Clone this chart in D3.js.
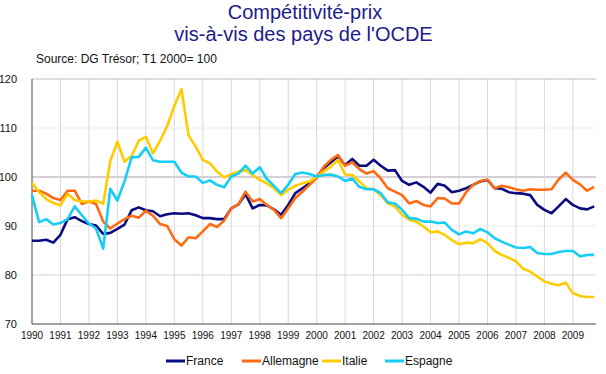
<!DOCTYPE html>
<html>
<head>
<meta charset="utf-8">
<script src="https://cdn.jsdelivr.net/npm/d3@7"></script>
<style>
  body { margin: 0; background: #fff; }
  svg { display: block; font-family: Arial, "Liberation Sans", sans-serif; }
</style>
</head>
<body>
<div id="chart"></div>
<script>
'use strict'

// quarterly data, 1990 T1 .. 2009 T4 (T1 2000 = 100)
const years = d3.range(1990, 2010)
const yTicks = [70, 80, 90, 100, 110, 120]

const france = [
    87.0, 87.0, 87.2, 86.6, 88.2, 91.4, 91.8, 91.0, 90.4, 90.1, 88.4, 88.6,
    89.4, 90.3, 93.2, 93.8, 93.2, 93.0, 92.0, 92.4, 92.6, 92.5, 92.6, 92.2,
    91.6, 91.6, 91.4, 91.4, 93.6, 94.4, 96.5, 93.6, 94.3, 94.2, 93.4, 92.3,
    94.3, 96.7, 97.7, 98.7, 100.0, 101.8, 103.0, 104.2, 102.4, 103.7, 102.3, 102.3,
    103.5, 102.3, 101.3, 101.4, 99.2, 98.4, 98.9, 98.0, 96.8, 98.6, 98.2, 96.9,
    97.2, 97.7, 98.4, 99.1, 99.4, 97.7, 97.6, 96.9, 96.7, 96.6, 96.3, 94.3,
    93.3, 92.6, 94.0, 95.5, 94.3, 93.6, 93.4, 94.0
]
const allemagne = [
    97.2, 97.2, 96.6, 95.7, 95.3, 97.2, 97.2, 94.5, 95.0, 94.5, 90.9, 89.5,
    90.5, 91.4, 92.1, 91.7, 93.1, 92.1, 90.4, 90.0, 87.3, 86.0, 87.7, 87.5,
    88.9, 90.4, 89.8, 91.1, 93.6, 94.4, 97.0, 95.0, 95.5, 94.3, 93.3, 91.6,
    93.6, 95.7, 97.0, 98.4, 99.8, 102.1, 103.5, 104.5, 102.3, 103.0, 101.6, 100.7,
    101.2, 99.7, 97.7, 97.0, 96.3, 94.6, 95.1, 94.3, 94.0, 95.7, 95.6, 94.6,
    94.6, 96.9, 98.4, 99.2, 99.5, 97.7, 98.2, 97.9, 97.5, 97.2, 97.5, 97.4,
    97.4, 97.5, 99.5, 100.9, 99.4, 98.5, 97.2, 98.0
]
const italie = [
    98.8, 96.9, 95.5, 94.7, 94.2, 96.6, 95.3, 95.0, 95.0, 95.2, 94.5, 103.3,
    107.2, 103.1, 104.3, 107.4, 108.2, 104.8, 107.4, 110.4, 114.5, 117.9, 108.5, 106.2,
    103.5, 102.8, 101.1, 99.9, 100.6, 101.1, 101.4, 100.4, 99.4, 98.7, 97.7, 96.3,
    97.4, 98.2, 98.7, 99.1, 100.0, 101.1, 102.1, 103.5, 100.5, 100.4, 99.1, 97.7,
    97.5, 96.3, 94.6, 94.0, 92.3, 91.3, 90.9, 89.9, 88.7, 88.9, 88.2, 87.1,
    86.3, 86.6, 86.5, 87.3, 86.5, 84.9, 84.1, 83.5, 82.8, 81.3, 80.7, 79.7,
    78.7, 78.2, 77.9, 78.4, 76.3, 75.7, 75.5, 75.5
]
const espagne = [
    96.3, 90.8, 91.4, 90.3, 90.6, 91.4, 94.0, 92.2, 90.5, 89.5, 85.4, 97.6,
    95.2, 99.1, 104.0, 104.1, 106.0, 103.4, 103.1, 103.1, 103.1, 100.9, 100.1, 100.1,
    98.8, 99.3, 98.4, 97.9, 100.1, 100.7, 102.3, 100.7, 102.0, 99.6, 98.2, 96.7,
    98.4, 100.6, 100.9, 100.6, 100.1, 100.4, 100.5, 100.1, 99.2, 99.7, 98.0, 97.5,
    97.5, 96.7, 94.8, 94.6, 93.3, 91.6, 91.5, 90.9, 90.9, 90.6, 90.7, 89.2,
    88.3, 88.9, 88.5, 89.4, 88.7, 87.5, 86.8, 86.2, 85.6, 85.5, 85.7, 84.5,
    84.3, 84.3, 84.7, 84.9, 84.9, 83.8, 84.1, 84.1
]

const seriesNames = ['France', 'Allemagne', 'Italie', 'Espagne']
const seriesValues = [france, allemagne, italie, espagne]
const colors = ['#0b0b80', '#ff6a13', '#ffcc00', '#16cdf6']

const svgWidth = 606
const svgHeight = 374

// plot box
const margin = { left: 32, right: 10, top: 79, bottom: 50 }
const width = svgWidth - margin.left - margin.right
const height = svgHeight - margin.top - margin.bottom

const svg = d3.select('#chart')
    .append('svg')
    .attr('width', svgWidth)
    .attr('height', svgHeight)

// titles
svg.append('text')
    .attr('x', 305).attr('y', 18.5)
    .attr('text-anchor', 'middle')
    .attr('font-size', 20)
    .attr('fill', '#1c1c8a')
    .text('Compétitivité-prix')
svg.append('text')
    .attr('x', 303.5).attr('y', 41)
    .attr('text-anchor', 'middle')
    .attr('font-size', 20)
    .attr('fill', '#1c1c8a')
    .text("vis-à-vis des pays de l'OCDE")
svg.append('text')
    .attr('x', 36).attr('y', 63)
    .attr('font-size', 12)
    .attr('fill', '#111')
    .text('Source: DG Trésor; T1 2000= 100')

const g = svg.append('g')
    .attr('transform', `translate(${margin.left},${margin.top})`)

////////////////////////////////////
//////////////scales////////////////
////////////////////////////////////

// x: quarter index, last quarter sits just inside the right edge
const xScale = d3.scaleLinear()
    .domain([0, 79.25])
    .range([0, width])

const yScale = d3.scaleLinear()
    .domain([70, 120])
    .range([height, 0])

////////////////////////////////////
//////////////grid//////////////////
////////////////////////////////////

// vertical year lines
g.selectAll('.vgrid')
    .data(years.slice(1))
    .join('line')
    .attr('class', 'vgrid')
    .attr('x1', d => xScale((d - 1990) * 4))
    .attr('x2', d => xScale((d - 1990) * 4))
    .attr('y1', 0)
    .attr('y2', height)
    .attr('stroke', '#dcd6dc')
    .attr('stroke-width', 1)

// horizontal lines: solid on 80/100/120, dotted on 90/110
g.selectAll('.hgrid')
    .data(yTicks.slice(1))
    .join('line')
    .attr('class', 'hgrid')
    .attr('x1', 0)
    .attr('x2', width)
    .attr('y1', d => yScale(d))
    .attr('y2', d => yScale(d))
    .attr('stroke', d => d == 120 ? '#bdbdbd' : (d % 20 == 0 ? '#d6cfd8' : '#d8d8d8'))
    .attr('stroke-width', d => d == 100 ? 2 : 1)
    .attr('stroke-dasharray', d => d % 20 == 0 ? null : '1,1')

// axis lines
g.append('line')
    .attr('x1', 0).attr('x2', 0)
    .attr('y1', 0).attr('y2', height)
    .attr('stroke', '#3c4a48')
g.append('line')
    .attr('x1', 0).attr('x2', width)
    .attr('y1', height).attr('y2', height)
    .attr('stroke', '#3c4a48')

// tick labels
g.selectAll('.ylab')
    .data(yTicks)
    .join('text')
    .attr('class', 'ylab')
    .attr('x', -15)
    .attr('y', d => yScale(d))
    .attr('dy', '0.35em')
    .attr('text-anchor', 'end')
    .attr('font-size', 11)
    .attr('fill', '#111')
    .text(d => d)

g.selectAll('.xlab')
    .data(years)
    .join('text')
    .attr('class', 'xlab')
    .attr('x', d => xScale((d - 1990) * 4))
    .attr('y', height + 15)
    .attr('text-anchor', 'middle')
    .attr('font-size', 10)
    .attr('fill', '#111')
    .text(d => d)

////////////////////////////////////
//////////////lines/////////////////
////////////////////////////////////

const line = d3.line()
    .x((d, i) => xScale(i))
    .y(d => yScale(d))

g.selectAll('.series')
    .data(seriesValues)
    .join('path')
    .attr('class', 'series')
    .attr('d', d => line(d))
    .attr('fill', 'none')
    .attr('stroke', (d, i) => colors[i])
    .attr('stroke-width', 2.6)
    .attr('stroke-linejoin', 'round')

// legend
const legendX = [166, 242, 322, 385]
const legend = svg.selectAll('.legend')
    .data(seriesNames)
    .join('g')
    .attr('class', 'legend')
    .attr('transform', (d, i) => `translate(${legendX[i]},361)`)

legend.append('line')
    .attr('x1', 0).attr('x2', 19)
    .attr('stroke', (d, i) => colors[i])
    .attr('stroke-width', 3)
legend.append('text')
    .attr('x', 20)
    .attr('dy', '0.35em')
    .attr('font-size', 12)
    .attr('fill', '#111')
    .text(d => d)
</script>
</body>
</html>
